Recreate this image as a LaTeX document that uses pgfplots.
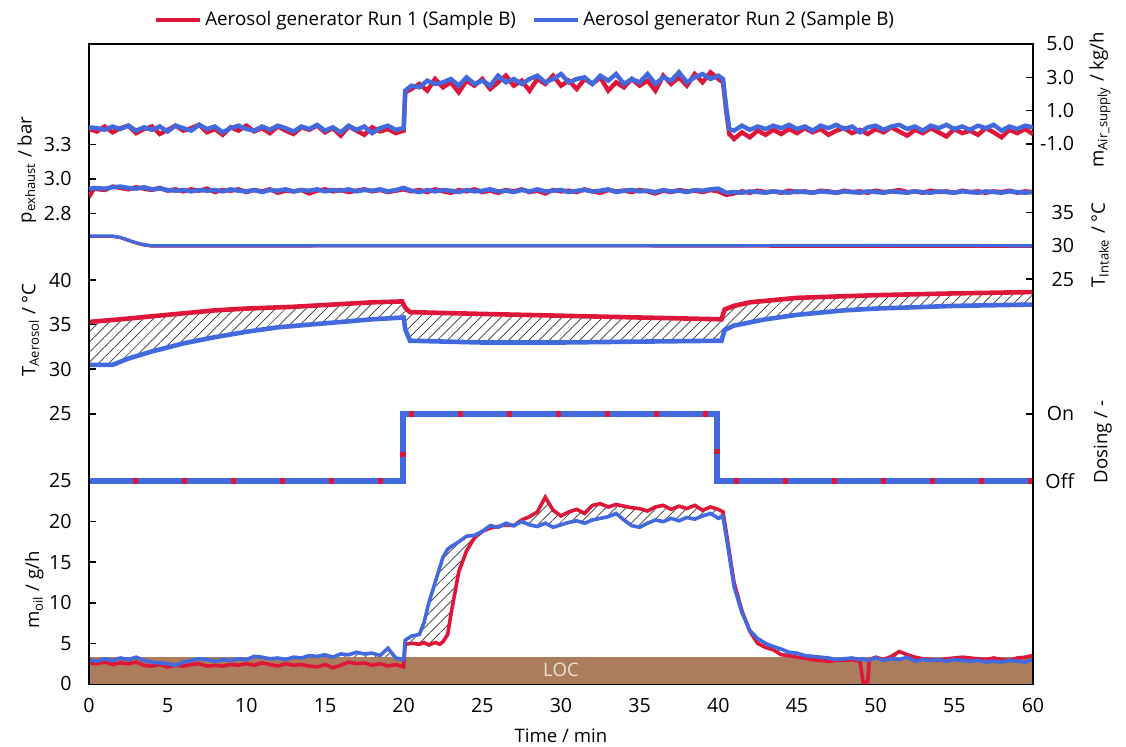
\documentclass[border=0pt]{standalone}
\usepackage{fontspec}
\setmainfont{Open Sans}
\usepackage{pgfplots}
\usepackage{pgfplotstable}
\pgfplotsset{compat=1.18}
\usepgfplotslibrary{fillbetween}
\usetikzlibrary{patterns.meta}

\definecolor{runred}{RGB}{222,22,58}
\definecolor{runblue}{RGB}{66,106,222}
\definecolor{locbrown}{RGB}{172,125,92}
\definecolor{loctext}{RGB}{238,226,216}

% m_Air_supply in kg/h
\pgfplotstableread{
t r b
0.0 -0.10 0.00
0.5 -0.25 -0.05
1.0 0.05 -0.15
1.5 -0.30 0.05
2.0 -0.05 -0.10
2.5 0.10 0.10
3.0 -0.35 -0.20
3.5 -0.10 0.00
4.0 0.05 -0.15
4.5 -0.40 0.05
5.0 -0.15 -0.25
5.5 0.10 0.10
6.0 -0.20 -0.05
6.5 -0.05 -0.20
7.0 0.15 0.15
7.5 -0.30 -0.10
8.0 -0.10 0.05
8.5 -0.45 -0.30
9.0 0.00 -0.05
9.5 -0.20 0.10
10.0 0.10 -0.10
10.5 -0.25 -0.20
11.0 -0.05 0.05
11.5 -0.35 -0.15
12.0 0.05 0.10
12.5 -0.20 -0.05
13.0 -0.40 -0.25
13.5 0.00 0.05
14.0 -0.15 -0.10
14.5 0.10 0.15
15.0 -0.30 -0.20
15.5 -0.05 0.00
16.0 -0.50 -0.30
16.5 0.05 0.10
17.0 -0.20 -0.15
17.5 -0.45 0.05
18.0 0.00 -0.35
18.5 -0.25 -0.05
19.0 -0.10 0.10
19.5 -0.35 -0.15
20.0 -0.20 -0.05
20.1 2.10 2.20
20.5 2.30 2.50
21.0 2.60 2.40
21.5 2.20 2.80
22.0 2.90 2.60
22.5 2.40 2.70
23.0 2.70 2.90
23.5 2.10 2.50
24.0 2.80 3.00
24.5 2.50 2.60
25.0 2.90 2.80
25.5 2.30 2.50
26.0 2.70 3.10
26.5 3.10 2.70
27.0 2.50 2.90
27.5 2.80 2.60
28.0 2.20 2.90
28.5 2.90 3.10
29.0 2.60 2.70
29.5 3.10 2.90
30.0 2.50 3.20
30.5 2.80 2.70
31.0 2.30 2.90
31.5 2.90 3.00
32.0 2.60 2.60
32.5 3.00 3.10
33.0 2.20 2.80
33.5 2.70 3.20
34.0 2.40 2.60
34.5 2.90 2.90
35.0 2.50 2.70
35.5 2.80 3.20
36.0 2.20 2.60
36.5 3.10 3.00
37.0 2.60 2.80
37.5 3.00 3.30
38.0 2.50 2.70
38.5 3.20 3.00
39.0 2.70 3.20
39.5 3.30 2.90
40.0 2.90 3.10
40.3 2.70 2.90
40.5 1.00 1.20
40.7 -0.40 -0.10
41.0 -0.70 -0.20
41.5 -0.30 0.10
42.0 -0.60 -0.15
42.5 -0.20 0.05
43.0 -0.45 -0.10
43.5 -0.15 0.10
44.0 -0.40 -0.05
44.5 -0.10 0.15
45.0 -0.35 -0.10
45.5 -0.05 0.05
46.0 -0.30 -0.20
46.5 -0.10 0.10
47.0 -0.45 -0.05
47.5 -0.20 0.15
48.0 -0.05 -0.10
48.5 -0.35 0.05
49.0 -0.15 -0.30
49.5 -0.40 0.00
50.0 -0.10 0.10
50.5 -0.30 -0.15
51.0 0.00 0.05
51.5 -0.25 0.15
52.0 -0.50 -0.10
52.5 -0.15 0.05
53.0 -0.35 -0.20
53.5 -0.05 0.10
54.0 -0.30 -0.05
54.5 -0.55 0.15
55.0 -0.10 -0.10
55.5 -0.35 0.05
56.0 -0.20 -0.15
56.5 -0.45 0.10
57.0 -0.05 -0.05
57.5 -0.30 0.15
58.0 -0.60 -0.20
58.5 -0.15 0.05
59.0 -0.35 -0.10
59.5 -0.10 0.10
60.0 -0.40 0.00
}\airtab

% p_exhaust in bar
\pgfplotstableread{
t r b
0.0 2.870 2.925
0.3 2.930 2.935
1.0 2.920 2.930
1.5 2.945 2.940
2.0 2.935 2.945
2.5 2.925 2.935
3.0 2.940 2.930
3.5 2.930 2.940
4.0 2.920 2.925
4.5 2.935 2.930
5.0 2.915 2.920
5.5 2.925 2.915
6.0 2.910 2.920
6.5 2.925 2.910
7.0 2.915 2.920
7.5 2.930 2.915
8.0 2.905 2.920
8.5 2.920 2.910
9.0 2.915 2.925
9.5 2.925 2.915
10.0 2.905 2.910
10.5 2.920 2.920
11.0 2.910 2.905
11.5 2.925 2.920
12.0 2.900 2.915
12.5 2.915 2.925
13.0 2.910 2.910
13.5 2.920 2.920
14.0 2.895 2.915
14.5 2.915 2.925
15.0 2.925 2.910
15.5 2.910 2.920
16.0 2.920 2.915
16.5 2.905 2.925
17.0 2.915 2.910
17.5 2.925 2.920
18.0 2.910 2.915
18.5 2.920 2.925
19.0 2.905 2.910
19.5 2.915 2.920
20.0 2.925 2.935
20.5 2.910 2.915
21.0 2.920 2.905
21.5 2.905 2.920
22.0 2.925 2.910
22.5 2.910 2.920
23.0 2.900 2.915
23.5 2.920 2.905
24.0 2.910 2.920
24.5 2.925 2.910
25.0 2.905 2.915
25.5 2.915 2.925
26.0 2.900 2.910
26.5 2.920 2.915
27.0 2.910 2.905
27.5 2.925 2.920
28.0 2.905 2.910
28.5 2.915 2.925
29.0 2.895 2.910
29.5 2.920 2.915
30.0 2.910 2.920
30.5 2.915 2.905
31.0 2.905 2.915
31.5 2.925 2.920
32.0 2.910 2.910
32.5 2.900 2.915
33.0 2.920 2.925
33.5 2.910 2.905
34.0 2.915 2.915
34.5 2.905 2.920
35.0 2.920 2.910
35.5 2.910 2.915
36.0 2.895 2.905
36.5 2.915 2.920
37.0 2.905 2.910
37.5 2.920 2.915
38.0 2.910 2.905
38.5 2.915 2.920
39.0 2.905 2.915
39.5 2.920 2.925
40.0 2.910 2.930
40.5 2.885 2.900
41.0 2.895 2.905
41.5 2.910 2.900
42.0 2.900 2.910
42.5 2.915 2.905
43.0 2.905 2.900
43.5 2.910 2.910
44.0 2.900 2.905
44.5 2.915 2.900
45.0 2.905 2.910
45.5 2.910 2.905
46.0 2.900 2.900
46.5 2.915 2.910
47.0 2.910 2.905
47.5 2.900 2.900
48.0 2.915 2.910
48.5 2.905 2.905
49.0 2.910 2.900
49.5 2.900 2.910
50.0 2.915 2.905
50.5 2.905 2.900
51.0 2.910 2.910
51.5 2.920 2.905
52.0 2.905 2.900
52.5 2.910 2.910
53.0 2.900 2.905
53.5 2.915 2.900
54.0 2.905 2.910
54.5 2.910 2.905
55.0 2.900 2.900
55.5 2.915 2.910
56.0 2.905 2.905
56.5 2.910 2.900
57.0 2.900 2.910
57.5 2.910 2.905
58.0 2.905 2.900
58.5 2.915 2.910
59.0 2.900 2.905
59.5 2.910 2.900
60.0 2.905 2.905
}\ptab

% m_oil in g/h
\pgfplotstableread{
t r b
0.0 2.6 3.0
0.5 2.5 2.8
1.0 2.7 3.1
1.5 2.4 2.9
2.0 2.6 3.2
2.5 2.5 3.0
3.0 2.7 3.3
3.5 2.3 2.9
4.0 2.2 2.7
4.5 2.4 2.6
5.0 2.1 2.5
5.5 2.3 2.3
6.0 2.2 2.7
6.5 2.4 2.9
7.0 2.5 3.1
7.5 2.2 3.0
8.0 2.3 2.8
8.5 2.2 3.0
9.0 2.4 2.9
9.5 2.3 3.1
10.0 2.5 3.0
10.5 2.3 3.4
11.0 2.6 3.3
11.5 2.4 3.1
12.0 2.2 3.2
12.5 2.5 3.0
13.0 2.3 3.3
13.5 2.4 3.2
14.0 2.2 3.5
14.5 2.1 3.4
15.0 2.4 3.6
15.5 2.0 3.3
16.0 2.3 3.7
16.5 2.7 3.6
17.0 2.5 3.9
17.5 2.6 3.7
18.0 2.3 3.8
18.5 2.5 3.5
19.0 2.2 4.4
19.5 2.4 3.2
20.0 2.1 3.0
20.1 4.9 5.4
20.5 5.0 5.9
21.0 4.9 6.1
21.3 5.1 7.6
21.6 4.8 10.0
22.0 5.1 12.5
22.3 4.9 14.4
22.5 5.2 15.6
22.8 6.1 16.6
23.0 8.5 16.9
23.5 13.8 17.5
24.0 16.4 18.2
24.5 18.0 18.3
25.0 18.8 18.8
25.5 19.2 19.5
26.0 19.4 19.3
26.5 19.6 19.8
27.0 19.5 19.5
27.5 20.2 20.0
28.0 20.6 19.6
28.5 21.2 19.4
29.0 23.0 19.8
29.5 21.4 19.3
30.0 20.7 19.6
30.5 21.2 19.9
31.0 21.5 20.1
31.5 21.0 19.8
32.0 22.0 20.2
32.5 22.2 20.4
33.0 21.8 20.6
33.5 22.1 21.0
34.0 21.9 20.2
34.5 21.7 19.5
35.0 21.6 19.3
35.5 21.3 19.8
36.0 21.8 20.2
36.5 22.0 20.0
37.0 21.5 20.4
37.5 21.9 20.1
38.0 21.6 20.5
38.5 22.0 20.3
39.0 21.4 20.7
39.5 21.8 21.0
40.0 21.5 20.4
40.3 21.2 20.6
40.6 17.5 17.0
41.0 12.5 12.0
41.5 9.0 8.8
42.0 6.5 6.6
42.5 5.0 5.6
43.0 4.5 5.0
43.5 4.2 4.6
44.0 3.6 4.3
44.5 3.5 3.9
45.0 3.3 3.8
45.5 3.2 3.5
46.0 3.0 3.4
46.5 2.9 3.3
47.0 2.8 3.2
47.5 2.9 3.0
48.0 2.9 3.1
48.5 3.0 3.2
49.0 2.8 3.0
49.2 0.2 3.1
49.5 0.3 2.9
49.6 3.0 3.0
50.0 3.3 3.2
50.5 3.0 2.9
51.0 3.4 3.1
51.5 4.0 3.0
52.0 3.6 3.3
52.5 3.3 2.8
53.0 3.1 3.0
53.5 3.0 2.9
54.0 2.9 3.0
54.5 3.1 2.8
55.0 3.2 3.0
55.5 3.3 2.9
56.0 3.2 2.8
56.5 3.1 2.9
57.0 3.0 2.7
57.5 3.2 2.8
58.0 3.0 2.7
58.5 2.9 2.9
59.0 3.2 2.8
59.5 3.3 2.7
60.0 3.5 3.0
}\oiltab

\pgfplotsset{
  base/.style={
    width=472pt, height=320pt, scale only axis,
    at={(0,0)}, anchor=south west,
    xmin=0, xmax=60, clip mode=individual,
    /pgf/number format/assume math mode=true,
    tick align=inside, major tick length=3.5pt,
    tick style={black, line width=0.8pt},
    axis line style={line width=1pt},
    ticklabel style={font=\fontsize{9.8}{11}\selectfont},
  },
  over/.style={base, hide x axis, axis y line*=#1},
  leftlab/.style={yticklabel style={xshift=-5.2pt}},
  rightlab/.style={yticklabel style={text width=17pt, align=right}},
  noisy/.style={line width=2.2pt},
}
\newcommand{\lab}[1]{\fontsize{9.3}{11}\selectfont #1}

\begin{document}
\begin{tikzpicture}

% m_oil axis: frame, time axis, LOC band and legend
\begin{axis}[base, leftlab,
  ymin=0, ymax=78.82,
  ytick={0,5,...,25}, ytick pos=left,
  xtick={0,5,...,60}, xtick pos=bottom,
  xticklabel style={yshift=-3.5pt},
  xlabel={\lab{Time / min}},
  xlabel style={yshift=-1.5pt},
  legend style={draw=none, fill=none, legend columns=2, at={(0.463,1.0375)}, anchor=center,
    font=\fontsize{9.4}{11}\selectfont,
    /tikz/every even column/.append style={column sep=6pt}},
  legend image code/.code={\draw[#1] (0pt,0pt) -- (22pt,0pt);},
]
\addlegendimage{runred, line width=1.6pt}
\addlegendentry{Aerosol generator Run 1 (Sample B)}
\addlegendimage{runblue, line width=1.6pt}
\addlegendentry{Aerosol generator Run 2 (Sample B)}
\addplot[fill=locbrown, draw=none, forget plot] coordinates {(0,0) (0,3.3) (60,3.3) (60,0)} \closedcycle;
\node[text=loctext] at (axis cs:30,1.8) {\lab{LOC}};
\addplot[name path=oilr, runred, line width=1.8pt, forget plot] table[x=t, y=r] {\oiltab};
\addplot[name path=oilb, runblue, line width=1.8pt, forget plot] table[x=t, y=b] {\oiltab};
\addplot[pattern={Lines[angle=45, distance=3.6pt, line width=0.35pt]}, pattern color=black!80, forget plot] fill between[of=oilr and oilb];
\node[rotate=90] at (rel axis cs:-0.058,0.147) {\lab{m\textsubscript{oil} / g/h}};
\end{axis}

% dosing
\begin{axis}[over=right, rightlab, ymin=-3.03, ymax=6.52,
  ytick={0,1}, yticklabels={Off,On}]
\addplot[runred, line width=3pt] coordinates {(0,0) (19.97,0) (19.97,1) (39.9,1) (39.9,0) (60,0)};
\addplot[runblue, line width=3pt, dash pattern=on 22pt off 2.5pt] coordinates {(0,0) (19.97,0) (19.97,1) (39.9,1) (39.9,0) (60,0)};
\node[rotate=90] at (rel axis cs:1.074,0.378) {\lab{Dosing / -}};
\end{axis}

% T_Aerosol
\begin{axis}[over=left, leftlab, ymin=-5.24, ymax=66.43,
  ytick={25,30,35,40}]
\addplot[name path=tar, runred, line width=2.3pt] coordinates {
(0,35.3) (2,35.6) (5,36.1) (8,36.6) (10,36.8) (13,37.0) (15,37.2) (18,37.5) (19.9,37.6)
(20.1,36.9) (20.4,36.4) (25,36.2) (30,36.0) (35,35.8) (40.2,35.6)
(40.4,36.7) (41,37.1) (42,37.5) (45,38.0) (50,38.3) (55,38.5) (60,38.65)};
\addplot[name path=tab, runblue, line width=2.3pt] coordinates {
(0,30.5) (1.5,30.5) (2.5,31.2) (4,32.0) (6,32.9) (8,33.6) (10,34.2) (12,34.7) (14,35.0) (16,35.3) (18,35.6) (20,35.8)
(20.1,34.5) (20.4,33.2) (25,33.0) (30,33.0) (35,33.1) (40.2,33.2)
(40.4,34.4) (41,34.9) (43,35.6) (45,36.1) (48,36.6) (50,36.8) (55,37.1) (60,37.25)};
\addplot[pattern={Lines[angle=45, distance=3.6pt, line width=0.35pt]}, pattern color=black!80] fill between[of=tar and tab];
\node[rotate=90] at (rel axis cs:-0.062,0.553) {\lab{T\textsubscript{Aerosol} / °C}};
\end{axis}

% T_Intake
\begin{axis}[over=right, rightlab, ymin=-35.7, ymax=60.24,
  ytick={25,30,35}]
\addplot[runred, line width=1.6pt] coordinates {
(0,31.4) (1.5,31.4) (2,31.2) (2.5,30.8) (3,30.4) (3.5,30.1) (4,29.95) (10,29.95) (20,30.0) (30,30.0) (40,29.95) (50,29.9) (60,29.9)};
\addplot[runblue, line width=1.6pt] coordinates {
(0,31.45) (1.5,31.45) (2,31.25) (2.5,30.85) (3,30.45) (3.5,30.15) (4,30.0) (10,30.0) (20,30.0) (30,30.0) (40,30.0) (50,30.05) (60,30.0)};
\node[rotate=90] at (rel axis cs:1.071,0.686) {\lab{T\textsubscript{Intake} / °C}};
\end{axis}

% p_exhaust
\begin{axis}[over=left, leftlab, ymin=-0.659, ymax=3.978,
  ytick={2.75,3,3.25}, yticklabels={2.8,3.0,3.3}]
\addplot[runred, noisy] table[x=t, y=r] {\ptab};
\addplot[runblue, noisy] table[x=t, y=b] {\ptab};
\node[rotate=90] at (rel axis cs:-0.066,0.803) {\lab{p\textsubscript{exhaust} / bar}};
\end{axis}

% m_Air_supply
\begin{axis}[over=right, rightlab, ymin=-33.4, ymax=5.0,
  ytick={-1,1,3,5}, yticklabel style={/pgf/number format/.cd, fixed, fixed zerofill, precision=1}]
\addplot[runred, noisy] table[x=t, y=r] {\airtab};
\addplot[runblue, noisy] table[x=t, y=b] {\airtab};
\node[rotate=90] at (rel axis cs:1.071,0.9125) {\lab{m\textsubscript{Air\_supply} / kg/h}};
\end{axis}

\pgfresetboundingbox
\path[use as bounding box] (-44.5pt,-31.5pt) rectangle (518.5pt,342pt);
\end{tikzpicture}
\end{document}
